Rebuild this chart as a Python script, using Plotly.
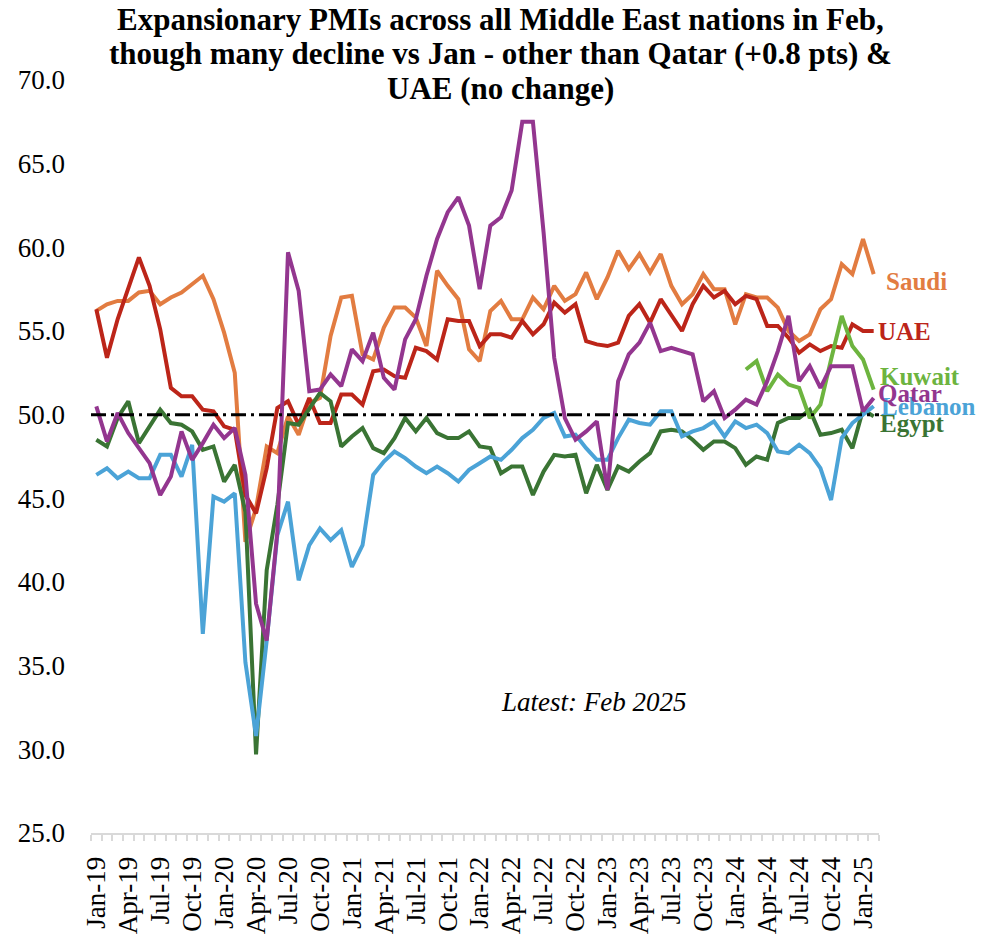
import plotly.graph_objects as go

mnames = ["Jan", "Feb", "Mar", "Apr", "May", "Jun", "Jul", "Aug", "Sep", "Oct", "Nov", "Dec"]
months = [f"{m}-{y}" for y in range(19, 26) for m in mnames][:74]  # Jan-19 .. Feb-25

saudi = [56.2, 56.6, 56.8, 56.8, 57.3, 57.4, 56.6, 57.0, 57.3, 57.8, 58.3, 56.9,
         54.9, 52.5, 42.4, 44.4, 48.1, 47.7, 49.9, 48.8, 50.7, 51.0, 54.7, 57.0,
         57.1, 53.6, 53.3, 55.2, 56.4, 56.4, 55.8, 54.1, 58.6, 57.7, 56.9, 53.9,
         53.2, 56.2, 56.8, 55.7, 55.7, 57.0, 56.3, 57.7, 56.8, 57.2, 58.5, 56.9,
         58.2, 59.8, 58.7, 59.6, 58.5, 59.6, 57.7, 56.6, 57.2, 58.4, 57.5, 57.5,
         55.4, 57.2, 57.0, 57.0, 56.4, 55.0, 54.4, 54.8, 56.3, 56.9, 59.0, 58.4,
         60.5, 58.4]
uae = [56.3, 53.4, 55.7, 57.6, 59.4, 57.7, 55.1, 51.6, 51.1, 51.1, 50.3, 50.2,
       49.3, 49.1, 45.2, 44.1, 46.8, 50.4, 50.8, 49.4, 51.0, 49.5, 49.5, 51.2,
       51.2, 50.6, 52.6, 52.7, 52.3, 52.2, 54.0, 53.8, 53.3, 55.7, 55.6, 55.6,
       54.1, 54.8, 54.8, 54.6, 55.6, 54.8, 55.4, 56.7, 56.1, 56.6, 54.4, 54.2,
       54.1, 54.3, 55.9, 56.6, 55.5, 56.9, 55.9, 55.0, 56.6, 57.7, 57.0, 57.4,
       56.6, 57.1, 56.9, 55.3, 55.3, 54.6, 53.7, 54.2, 53.8, 54.1, 54.0, 55.4,
       55.0, 55.0]
kuwait = [None] * 61 + [52.7, 53.2, 51.4, 52.4, 51.8, 51.6, 49.8, 50.6, 53.3, 55.9, 54.1,
                        53.3, 51.5]
qatar = [50.5, 48.4, 50.1, 48.9, 48.0, 47.1, 45.2, 46.3, 49.0, 47.3, 48.3, 49.4,
         48.6, 49.2, 46.4, 38.7, 36.5, 43.0, 59.7, 57.4, 51.4, 51.5, 52.4, 51.7,
         53.9, 53.2, 54.9, 52.2, 51.5, 54.5, 55.7, 58.3, 60.5, 62.1, 63.0, 61.3,
         57.5, 61.3, 61.8, 63.4, 67.5, 67.5, 60.9, 53.4, 49.8, 48.5, 49.0, 49.6,
         45.5, 52.0, 53.6, 54.3, 55.5, 53.8, 54.0, 53.8, 53.6, 50.8, 51.4, 49.8,
         50.3, 50.9, 50.6, 52.0, 53.8, 55.9, 52.0, 52.9, 51.6, 52.9, 52.9, 52.9,
         50.2, 51.0]
lebanon = [46.4, 46.8, 46.2, 46.6, 46.2, 46.2, 47.6, 47.6, 46.3, 48.2, 36.9, 45.1,
           44.8, 45.3, 35.2, 30.8, 36.5, 42.8, 44.8, 40.1, 42.2, 43.2, 42.5, 43.1,
           40.9, 42.2, 46.4, 47.2, 47.8, 47.4, 46.9, 46.5, 46.9, 46.5, 46.0, 46.7,
           47.1, 47.5, 47.3, 47.9, 48.6, 49.1, 49.8, 50.1, 48.7, 48.8, 48.0, 47.3,
           47.3, 48.6, 49.7, 49.5, 49.4, 50.2, 50.2, 48.7, 49.0, 49.2, 49.6, 48.7,
           49.6, 49.2, 49.4, 48.9, 47.8, 47.7, 48.2, 47.7, 46.8, 44.9, 48.6, 49.5,
           50.0, 50.5]
egypt = [48.5, 48.1, 49.8, 50.8, 48.3, 49.3, 50.3, 49.5, 49.4, 49.0, 47.9, 48.1,
         46.0, 47.0, 44.2, 29.7, 40.7, 44.6, 49.5, 49.4, 50.4, 51.3, 50.8, 48.1,
         48.7, 49.2, 48.0, 47.7, 48.6, 49.8, 49.0, 49.8, 48.9, 48.6, 48.6, 49.0,
         48.1, 48.0, 46.5, 46.9, 46.9, 45.2, 46.6, 47.6, 47.5, 47.6, 45.3, 47.0,
         45.5, 46.9, 46.6, 47.2, 47.7, 49.0, 49.1, 49.0, 48.5, 47.9, 48.4, 48.4,
         48.0, 47.0, 47.5, 47.3, 49.5, 49.8, 49.8, 50.3, 48.8, 48.9, 49.1, 48.0,
         50.3, 49.9]

threshold = 50.0
yticks = [25.0, 30.0, 35.0, 40.0, 45.0, 50.0, 55.0, 60.0, 65.0, 70.0]

series = [
    ("Saudi", saudi, "#E27C41"),
    ("UAE", uae, "#BC2519"),
    ("Egypt", egypt, "#3A7434"),
    ("Lebanon", lebanon, "#4BA3D7"),
    ("Kuwait", kuwait, "#6DB43F"),
    ("Qatar", qatar, "#93368F"),
]
# label anchor: (left x in paper fraction of plot width, y in data units)
label_pos = {"Saudi": (1.0064, 57.95), "UAE": (0.9963, 55.0), "Kuwait": (0.9988, 52.3),
             "Qatar": (0.9963, 51.25), "Lebanon": (1.0000, 50.5), "Egypt": (0.9988, 49.45)}

W, H = 976, 927
ML, MR, MT, MB = 83, 105, 72, 102
PW, PH = W - ML - MR, H - MT - MB

xidx = list(range(len(months)))
SERIF = "Liberation Serif, Times New Roman, serif"

fig = go.Figure()
for name, vals, col in series:
    fig.add_trace(go.Scatter(x=xidx, y=vals, mode="lines", name=name,
                             line=dict(color=col, width=4), connectgaps=False,
                             showlegend=False))

fig.add_shape(type="line", xref="paper", yref="y", x0=0, x1=1, y0=threshold, y1=threshold,
              line=dict(color="black", width=3, dash="15px,5px,3px,5px"), layer="above")

annotations = []
for name, vals, col in series:
    lx, ly = label_pos[name]
    annotations.append(dict(x=lx, y=ly, xref="paper", yref="y", text=f"<b>{name}</b>",
                            showarrow=False, xanchor="left", yanchor="middle",
                            font=dict(family=SERIF, size=25, color=col)))
annotations.append(dict(x=46.7, y=32.8, xref="x", yref="y", text="<i>Latest: Feb 2025</i>",
                        showarrow=False, xanchor="center", yanchor="middle",
                        font=dict(family=SERIF, size=27, color="black")))
title_lines = ["Expansionary PMIs across all Middle East nations in Feb,",
               "though many decline vs Jan - other than Qatar (+0.8 pts) &",
               "UAE (no change)"]
for t, ypx in zip(title_lines, [11, 45, 80]):
    annotations.append(dict(x=(493 - ML) / PW, y=(H - ypx - MB) / PH, xref="paper", yref="paper",
                            text=f"<b>{t}</b>", showarrow=False, xanchor="center",
                            yanchor="middle",
                            font=dict(family=SERIF, size=31, color="black")))

fig.update_layout(
    width=W, height=H,
    margin=dict(l=ML, r=MR, t=MT, b=MB, autoexpand=False),
    paper_bgcolor="white", plot_bgcolor="white",
    annotations=annotations,
    xaxis=dict(range=[-0.5, 73.5], tickmode="array", tickvals=xidx[::3],
               ticktext=months[::3], tickangle=-90, ticks="", showgrid=False,
               zeroline=False, showline=True, linecolor="#D9D9D9", linewidth=2,
               tickfont=dict(family=SERIF, size=27, color="black"),
               ticklabelstandoff=11,
               minor=dict(ticks="outside", tick0=-0.5, dtick=1, ticklen=6,
                          tickcolor="#D9D9D9", tickwidth=1.5, showgrid=False)),
    yaxis=dict(range=[25, 70], tickmode="array", tickvals=yticks,
               ticktext=[f"{v:.1f}" for v in yticks], showgrid=False, zeroline=False,
               showline=False, ticks="",
               tickfont=dict(family=SERIF, size=27, color="black"),
               ticklabelstandoff=25),
)

fig.write_html("out.html")
